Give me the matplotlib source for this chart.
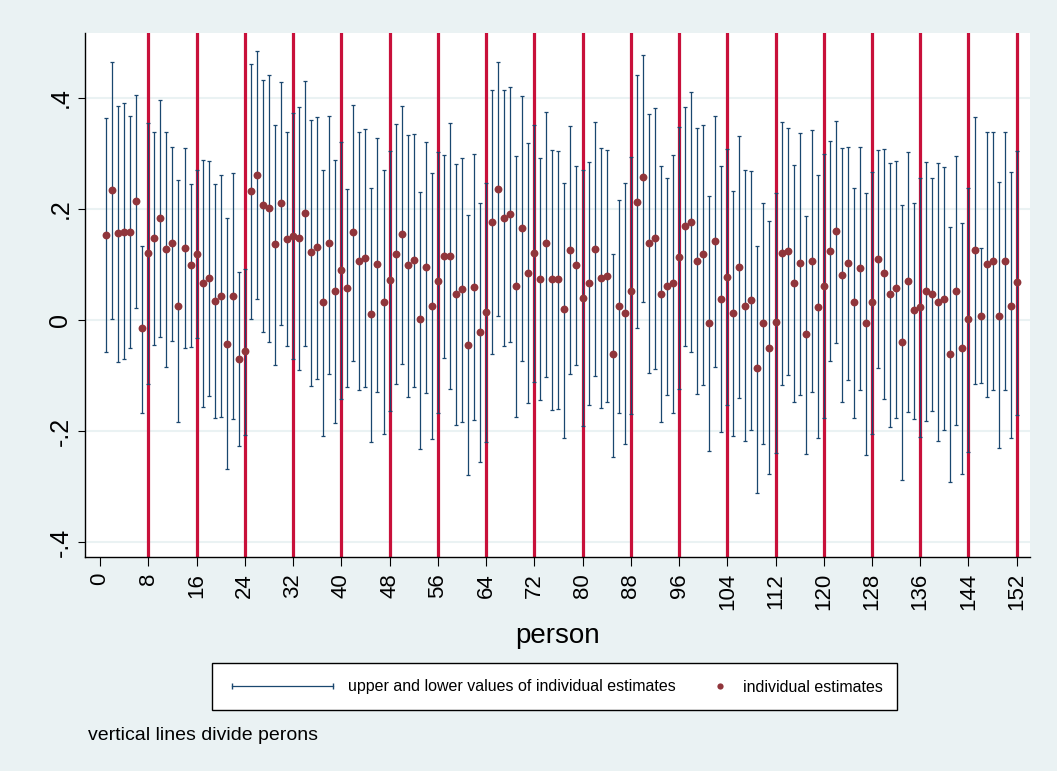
import numpy as np
import matplotlib
matplotlib.use('Agg')
import matplotlib.pyplot as plt
from matplotlib.patches import Rectangle
from matplotlib.lines import Line2D

plt.rcParams['font.family'] = ['Liberation Sans', 'DejaVu Sans']

# individual estimates for persons 1..152, with upper and lower values
est = [0.153, 0.234, 0.156, 0.159, 0.159, 0.214, -0.015, 0.121, 0.147, 0.183,
       0.128, 0.138, 0.026, 0.130, 0.099, 0.119, 0.067, 0.075, 0.035, 0.044,
       -0.043, 0.043, -0.070, -0.056, 0.232, 0.262, 0.207, 0.202, 0.136, 0.211,
       0.146, 0.152, 0.148, 0.192, 0.122, 0.131, 0.032, 0.138, 0.052, 0.090,
       0.058, 0.158, 0.107, 0.112, 0.010, 0.101, 0.033, 0.072, 0.119, 0.155,
       0.099, 0.108, 0.001, 0.095, 0.025, 0.070, 0.115, 0.116, 0.047, 0.055,
       -0.045, 0.060, -0.022, 0.015, 0.177, 0.236, 0.184, 0.191, 0.061, 0.165,
       0.085, 0.121, 0.074, 0.138, 0.073, 0.073, 0.019, 0.126, 0.099, 0.040,
       0.066, 0.128, 0.075, 0.079, -0.062, 0.025, 0.012, 0.053, 0.213, 0.257,
       0.139, 0.147, 0.047, 0.061, 0.066, 0.113, 0.170, 0.176, 0.107, 0.118,
       -0.006, 0.142, 0.038, 0.077, 0.012, 0.096, 0.025, 0.036, -0.087, -0.006,
       -0.050, -0.004, 0.121, 0.125, 0.066, 0.102, -0.026, 0.107, 0.024, 0.061,
       0.125, 0.160, 0.081, 0.102, 0.033, 0.093, -0.006, 0.032, 0.110, 0.085,
       0.047, 0.057, -0.040, 0.070, 0.018, 0.023, 0.053, 0.047, 0.033, 0.038,
       -0.061, 0.053, -0.050, 0.001, 0.126, 0.007, 0.101, 0.107, 0.008, 0.107,
       0.026, 0.068]
upper = [0.364, 0.465, 0.385, 0.390, 0.368, 0.406, 0.133, 0.355, 0.338, 0.396,
         0.338, 0.312, 0.252, 0.310, 0.245, 0.270, 0.288, 0.287, 0.245, 0.262,
         0.183, 0.264, 0.087, 0.092, 0.462, 0.485, 0.433, 0.441, 0.352, 0.428,
         0.338, 0.373, 0.384, 0.430, 0.361, 0.366, 0.270, 0.368, 0.288, 0.321,
         0.236, 0.388, 0.338, 0.344, 0.238, 0.328, 0.270, 0.305, 0.353, 0.385,
         0.333, 0.335, 0.230, 0.320, 0.264, 0.302, 0.298, 0.355, 0.281, 0.291,
         0.190, 0.299, 0.211, 0.247, 0.415, 0.465, 0.415, 0.419, 0.296, 0.403,
         0.318, 0.352, 0.291, 0.375, 0.307, 0.304, 0.247, 0.350, 0.278, 0.271,
         0.284, 0.357, 0.310, 0.307, 0.119, 0.216, 0.246, 0.293, 0.442, 0.477,
         0.371, 0.381, 0.278, 0.255, 0.298, 0.348, 0.384, 0.410, 0.346, 0.352,
         0.223, 0.367, 0.278, 0.308, 0.232, 0.332, 0.270, 0.268, 0.134, 0.210,
         0.178, 0.229, 0.357, 0.346, 0.279, 0.336, 0.187, 0.342, 0.262, 0.299,
         0.322, 0.359, 0.310, 0.312, 0.238, 0.312, 0.229, 0.266, 0.306, 0.308,
         0.283, 0.287, 0.208, 0.302, 0.211, 0.255, 0.285, 0.256, 0.282, 0.275,
         0.168, 0.296, 0.175, 0.237, 0.365, 0.129, 0.338, 0.338, 0.248, 0.338,
         0.267, 0.305]
lower = [-0.058, 0.002, -0.075, -0.070, -0.050, 0.021, -0.167, -0.115, -0.045, -0.030,
         -0.084, -0.037, -0.183, -0.050, -0.048, -0.032, -0.156, -0.137, -0.176, -0.175,
         -0.268, -0.178, -0.227, -0.208, 0.001, 0.038, -0.021, -0.039, -0.081, -0.009,
         -0.046, -0.070, -0.090, -0.046, -0.119, -0.106, -0.209, -0.097, -0.185, -0.142,
         -0.121, -0.074, -0.126, -0.120, -0.219, -0.129, -0.206, -0.164, -0.115, -0.079,
         -0.139, -0.121, -0.232, -0.132, -0.215, -0.167, -0.068, -0.124, -0.189, -0.183,
         -0.279, -0.180, -0.256, -0.219, -0.061, 0.008, -0.046, -0.039, -0.175, -0.073,
         -0.150, -0.112, -0.145, -0.102, -0.162, -0.161, -0.213, -0.097, -0.081, -0.191,
         -0.153, -0.101, -0.159, -0.147, -0.247, -0.168, -0.224, -0.170, -0.015, 0.033,
         -0.095, -0.088, -0.184, -0.135, -0.167, -0.124, -0.046, -0.058, -0.134, -0.117,
         -0.236, -0.085, -0.201, -0.154, -0.209, -0.141, -0.218, -0.199, -0.312, -0.224,
         -0.277, -0.239, -0.117, -0.099, -0.147, -0.135, -0.241, -0.129, -0.213, -0.177,
         -0.073, -0.041, -0.148, -0.109, -0.176, -0.127, -0.243, -0.205, -0.087, -0.142,
         -0.192, -0.177, -0.288, -0.165, -0.178, -0.210, -0.182, -0.164, -0.218, -0.199,
         -0.292, -0.189, -0.277, -0.238, -0.115, -0.113, -0.138, -0.127, -0.231, -0.127,
         -0.213, -0.171]
dividers = list(range(8, 153, 8))
xticks = list(range(0, 153, 8))
yticks = [-0.4, -0.2, 0, 0.2, 0.4]
ytick_labels = ['-.4', '-.2', '0', '.2', '.4']

person = np.arange(1, len(est) + 1)
est = np.array(est); upper = np.array(upper); lower = np.array(lower)

bg = '#eaf2f3'
navy = '#1a476f'
maroon = '#90353b'
red = '#c8103a'

fig = plt.figure(figsize=(10.57, 7.71), dpi=100, facecolor=bg)
ax = fig.add_axes([85/1057, 1-557/771, 945/1057, 524/771])
ax.set_facecolor('white')

for v in yticks:
    ax.axhline(v, color=bg, lw=1.5, zorder=0)
for d in dividers:
    ax.axvline(d, color=red, lw=2.3, zorder=1)

ax.errorbar(person, est, yerr=[est - lower, upper - est], fmt='none',
            ecolor=navy, elinewidth=0.9, capsize=1.4, capthick=0.9, zorder=2)
ax.scatter(person, est, s=32, color=maroon, zorder=3, linewidths=0)

ax.set_xlim(-2.5, 154.2)
ax.set_ylim(-0.427, 0.517)
ax.set_xticks(xticks)
ax.set_xticklabels([str(t) for t in xticks], rotation=90, fontsize=16)
ax.set_yticks(yticks)
ax.set_yticklabels(ytick_labels, rotation=90, fontsize=18, va='center')
ax.tick_params(axis='x', length=6.5, width=0.8, pad=5)
ax.tick_params(axis='y', length=5, width=0.8, pad=4)
for s in ['top', 'right']:
    ax.spines[s].set_visible(False)
for s in ['left', 'bottom']:
    ax.spines[s].set_linewidth(1)
ax.set_xlabel('person', fontsize=20, labelpad=9)

# legend box drawn in figure pixels
W, H = 1057, 771
def fx(px): return px / W
def fy(py): return 1 - py / H
fig.patches.append(Rectangle((fx(212), fy(710)), fx(897) - fx(212), fy(663) - fy(710),
                             transform=fig.transFigure, facecolor='white',
                             edgecolor='black', lw=1))
fig.lines.append(Line2D([fx(232), fx(333)], [fy(686), fy(686)], color=navy, lw=0.9,
                        transform=fig.transFigure))
fig.lines.append(Line2D([fx(232), fx(333)], [fy(686), fy(686)], color=navy, lw=0,
                        marker='|', markersize=4, transform=fig.transFigure))
fig.text(fx(348), fy(687), 'upper and lower values of individual estimates',
         fontsize=11.5, va='center', ha='left')
fig.lines.append(Line2D([fx(720)], [fy(686)], color=maroon, marker='o', markersize=4.5,
                        lw=0, markeredgewidth=0, transform=fig.transFigure))
fig.text(fx(743), fy(687), 'individual estimates', fontsize=11.5, va='center', ha='left')

fig.text(fx(88), fy(735), 'vertical lines divide perons', fontsize=14, va='center', ha='left')

fig.savefig('out.png', dpi=100, facecolor=bg)
